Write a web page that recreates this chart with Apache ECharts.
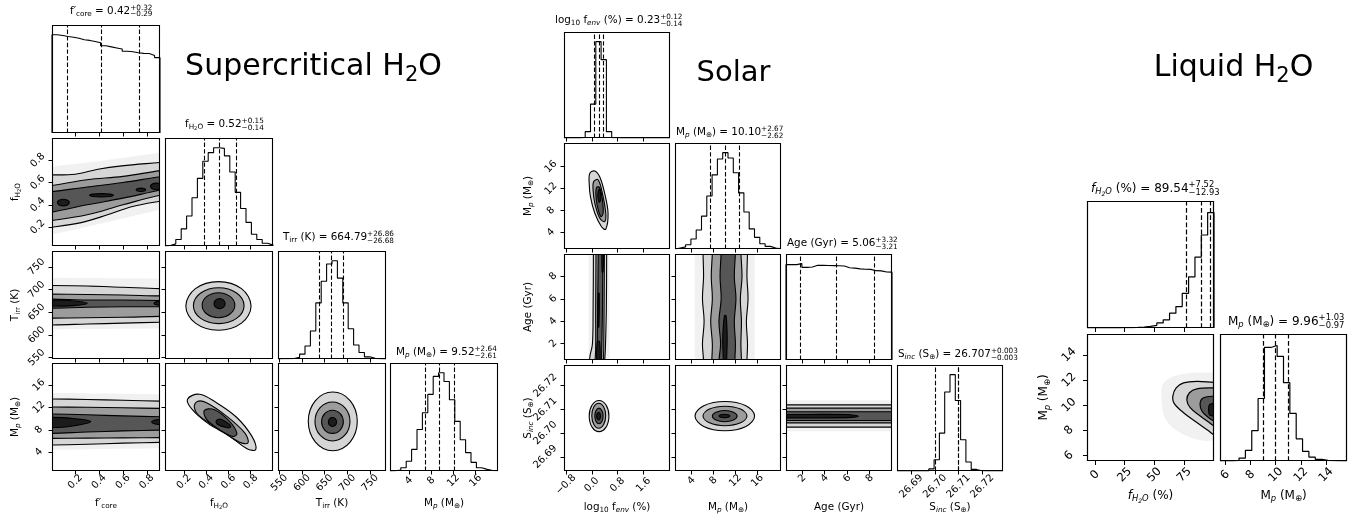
<!DOCTYPE html>
<html>
<head>
<meta charset="utf-8">
<title>Posterior corner plots</title>
<script src="https://cdn.jsdelivr.net/npm/echarts@6.0.0/dist/echarts.min.js"></script>
<style>
  html, body { margin: 0; padding: 0; background: #ffffff; }
  #chart { width: 1367px; height: 521px; }
</style>
</head>
<body>
<div id="chart"></div>
<script>
// ===================== Supercritical H2O =====================
const SC_FCORE_RANGE = [0.005, 0.91];
const SC_FH2O_RANGE  = [0.03, 1.0];
const SC_TIRR_RANGE  = [547, 785];
const SC_MP_RANGE    = [0.6, 20];

const SC_FCORE_TICKS = [0.2, 0.4, 0.6, 0.8];
const SC_FH2O_TICKS  = [0.2, 0.4, 0.6, 0.8];
const SC_TIRR_TICKS  = [550, 600, 650, 700, 750];
const SC_MP_TICKS    = [4, 8, 12, 16];

// marginal histograms: 20 equal bins spanning each range, relative counts
const SC_FCORE_HIST = [0.912, 0.905, 0.897, 0.89, 0.88, 0.866, 0.86, 0.85, 0.838, 0.81, 0.80, 0.79, 0.78, 0.76, 0.755, 0.745, 0.74, 0.738, 0.72, 0.70];
const SC_FH2O_HIST  = [0.005, 0.02, 0.06, 0.16, 0.28, 0.45, 0.63, 0.79, 0.87, 0.915, 0.91, 0.84, 0.69, 0.5, 0.35, 0.22, 0.11, 0.06, 0.025, 0.008];
const SC_TIRR_HIST  = [0.002, 0.003, 0.005, 0.015, 0.045, 0.12, 0.26, 0.52, 0.72, 0.88, 0.91, 0.75, 0.52, 0.28, 0.13, 0.06, 0.02, 0.006, 0.002, 0.001];
const SC_MP_HIST    = [0.003, 0.01, 0.03, 0.09, 0.2, 0.385, 0.54, 0.71, 0.877, 0.91, 0.83, 0.66, 0.46, 0.29, 0.17, 0.08, 0.03, 0.015, 0.005, 0.002];

// 16th / 50th / 84th percentiles
const SC_FCORE_Q = [0.13, 0.42, 0.74];
const SC_FH2O_Q  = [0.38, 0.52, 0.67];
const SC_TIRR_Q  = [638.11, 664.79, 691.65];
const SC_MP_Q    = [6.91, 9.52, 12.16];

// 2-D posteriors: [density level, outline]; level 0 = faint haze, 1..4 = nested contour levels
const SC_FH2O_FCORE = [
  [0, [[-0.4,0.08],[-0.02,0.13],[0.45,0.24],[0.93,0.36],[1.3,0.44],[1.3,0.92],[0.93,0.87],[0.45,0.8],[-0.02,0.74],[-0.4,0.7]]],
  [1, [[-0.4,0.15],[-0.02,0.196],[0.25,0.24],[0.47,0.31],[0.68,0.385],[0.93,0.435],[1.3,0.5],[1.3,0.82],[0.93,0.782],[0.59,0.75],[0.39,0.72],[0.2,0.675],[-0.02,0.668],[-0.4,0.66]]],
  [2, [[-0.4,0.2],[-0.02,0.255],[0.3,0.31],[0.6,0.4],[0.93,0.49],[1.3,0.55],[1.3,0.75],[0.93,0.71],[0.6,0.655],[0.3,0.625],[-0.02,0.57],[-0.4,0.52]]],
  [3, [[-0.4,0.28],[-0.02,0.33],[0.3,0.4],[0.6,0.46],[0.93,0.535],[1.3,0.6],[1.3,0.7],[0.93,0.655],[0.6,0.6],[0.3,0.56],[-0.02,0.515],[-0.4,0.47]]],
  [4, [[0.1,0.45],[0.135,0.441],[0.15,0.42],[0.135,0.399],[0.1,0.39],[0.065,0.399],[0.05,0.42],[0.065,0.441]]],
  [4, [[0.42,0.5],[0.49,0.496],[0.52,0.485],[0.49,0.474],[0.42,0.47],[0.35,0.474],[0.32,0.485],[0.35,0.496]]],
  [4, [[0.75,0.55],[0.778,0.546],[0.79,0.535],[0.778,0.524],[0.75,0.52],[0.722,0.524],[0.71,0.535],[0.722,0.546]]],
  [4, [[0.88,0.595],[0.915,0.586],[0.93,0.565],[0.915,0.544],[0.88,0.535],[0.845,0.544],[0.83,0.565],[0.845,0.586]]]
];
const SC_TIRR_FCORE = [
  [0, [[-0.4,612],[-0.02,612],[0.93,614],[1.3,614],[1.3,724],[0.93,724],[-0.02,726],[-0.4,726]]],
  [1, [[-0.4,622],[-0.02,622],[0.3,624],[0.6,626],[0.93,628],[1.3,629],[1.3,702],[0.93,702],[0.6,705],[0.3,708],[-0.02,709],[-0.4,709]]],
  [2, [[-0.4,637],[-0.02,637],[0.3,638],[0.6,639],[0.93,641],[1.3,641],[1.3,686],[0.93,686],[0.6,688],[0.3,689],[-0.02,690],[-0.4,690]]],
  [3, [[-0.4,659],[-0.02,659],[0.3,661],[0.6,662],[0.93,662],[1.3,662],[1.3,676],[0.93,676],[0.6,677],[0.3,677],[-0.02,679],[-0.4,679]]],
  [4, [[-0.4,664],[-0.02,664],[0.15,664],[0.3,670],[0.15,676],[-0.02,677],[-0.4,677]]],
  [4, [[0.86,669],[0.89,666],[0.93,666],[0.95,670],[0.93,674],[0.89,674]]]
];
const SC_MP_FCORE = [
  [0, [[-0.4,4.4],[-0.02,4.4],[0.93,4.7],[1.3,4.7],[1.3,14.4],[0.93,14.4],[-0.02,14.6],[-0.4,14.6]]],
  [1, [[-0.4,5.2],[-0.02,5.25],[0.3,5.4],[0.6,5.6],[0.93,5.75],[1.3,5.8],[1.3,13.1],[0.93,13.15],[0.6,13.3],[0.3,13.45],[-0.02,13.55],[-0.4,13.6]]],
  [2, [[-0.4,6.4],[-0.02,6.45],[0.3,6.5],[0.6,6.55],[0.93,6.6],[1.3,6.6],[1.3,11.8],[0.93,11.85],[0.6,11.95],[0.3,12.05],[-0.02,12.1],[-0.4,12.15]]],
  [3, [[-0.4,7.3],[-0.02,7.35],[0.3,7.6],[0.6,7.8],[0.93,7.95],[1.3,8.0],[1.3,10.3],[0.93,10.35],[0.6,10.5],[0.3,10.7],[-0.02,10.85],[-0.4,10.9]]],
  [4, [[-0.4,8.3],[-0.02,8.4],[0.15,8.6],[0.33,9.5],[0.15,10.1],[-0.02,10.25],[-0.4,10.3]]],
  [4, [[0.84,9.4],[0.88,9.0],[0.93,9.0],[0.95,9.4],[0.93,9.8],[0.88,9.8]]]
];
const SC_TIRR_FH2O = [
  [1, [[0.51,717.5],[0.717,702],[0.803,664],[0.717,626],[0.51,610.5],[0.303,626],[0.217,664],[0.303,702]]],
  [2, [[0.512,704],[0.673,692.4],[0.74,664.5],[0.673,636.6],[0.512,625],[0.351,636.6],[0.285,664.5],[0.351,692.4]]],
  [3, [[0.51,693],[0.614,684.9],[0.657,665.5],[0.614,646.1],[0.51,638],[0.406,646.1],[0.364,665.5],[0.406,684.9]]],
  [4, [[0.52,680],[0.555,676.8],[0.57,669],[0.555,661.2],[0.52,658],[0.485,661.2],[0.47,669],[0.485,676.8]]]
];
const SC_MP_FH2O = [
  [1, [[0.338,14.4],[0.49,12.9],[0.67,10.3],[0.807,6.95],[0.846,4.5],[0.776,4.5],[0.61,6.85],[0.413,9.2],[0.272,11.7],[0.232,13.5]]],
  [2, [[0.399,12.9],[0.58,10.5],[0.746,7.45],[0.776,5.67],[0.70,5.75],[0.52,8.1],[0.338,10.5],[0.293,12.1],[0.32,13.1]]],
  [3, [[0.475,11.6],[0.61,9.5],[0.676,7.35],[0.64,6.8],[0.49,8.4],[0.399,10.0],[0.384,11.5]]],
  [4, [[0.53,9.9],[0.6,9.1],[0.62,8.5],[0.58,8.4],[0.5,9.0],[0.49,9.6]]]
];
const SC_MP_TIRR = [
  [1, [[667.7,14.8],[705.9,13.25],[721.7,9.52],[705.9,5.79],[667.7,4.24],[629.5,5.79],[613.7,9.52],[629.5,13.25]]],
  [2, [[667,13.0],[694.2,11.97],[705.6,9.5],[694.2,7.03],[667,6.0],[639.8,7.03],[628.5,9.5],[639.8,11.97]]],
  [3, [[667,11.5],[684,10.9],[691,9.43],[684,7.96],[667,7.35],[650,7.96],[643,9.43],[650,10.9]]],
  [4, [[667,10.2],[673.4,9.97],[676,9.4],[673.4,8.83],[667,8.6],[660.6,8.83],[658,9.4],[660.6,9.97]]]
];

// ===================== Solar =====================
const SOL_LOGF_RANGE = [-0.86, 2.42];
const SOL_MP_RANGE   = [1.0, 20.3];
const SOL_AGE_RANGE  = [0.55, 10];
const SOL_SINC_RANGE = [26.684, 26.7287];

const SOL_LOGF_TICKS = [-0.8, 0.0, 0.8, 1.6];
const SOL_MP_TICKS   = [4, 8, 12, 16];
const SOL_AGE_TICKS  = [2, 4, 6, 8];
const SOL_SINC_TICKS = [26.69, 26.70, 26.71, 26.72];

const SOL_LOGF_HIST = [0, 0, 0, 0.005, 0.06, 0.32, 0.91, 0.74, 0.06, 0.003, 0, 0, 0, 0, 0, 0, 0, 0, 0, 0];
const SOL_MP_HIST   = [0.01, 0.02, 0.04, 0.094, 0.18, 0.31, 0.50, 0.70, 0.85, 0.91, 0.86, 0.72, 0.53, 0.35, 0.19, 0.11, 0.05, 0.025, 0.01, 0.003];
const SOL_AGE_HIST  = [0.895, 0.895, 0.904, 0.869, 0.872, 0.888, 0.888, 0.886, 0.885, 0.884, 0.882, 0.865, 0.862, 0.855, 0.852, 0.85, 0.838, 0.836, 0.826, 0.824];
const SOL_SINC_HIST = [0, 0, 0, 0, 0, 0, 0.02, 0.107, 0.36, 0.75, 0.915, 0.67, 0.297, 0.085, 0.015, 0.003, 0, 0, 0, 0];

const SOL_LOGF_Q = [0.09, 0.23, 0.35];
const SOL_MP_Q   = [7.48, 10.10, 12.77];
const SOL_AGE_Q  = [1.85, 5.06, 8.38];
const SOL_SINC_Q = [26.704, 26.707, 26.710];

const SOL_MP_LOGF = [
  [1, [[0.094,15.2],[0.248,14.1],[0.40,11.1],[0.503,7.5],[0.432,4.6],[0.30,5.05],[0.094,7.5],[-0.04,10.5],[-0.08,12.9],[-0.06,14.8]]],
  [2, [[0.195,13.6],[0.33,11.1],[0.432,7.5],[0.40,6.0],[0.248,6.6],[0.094,9.3],[0.04,11.7],[0.06,13.3]]],
  [3, [[0.248,12.1],[0.33,9.9],[0.35,7.5],[0.28,6.9],[0.165,9.0],[0.125,11.1],[0.16,12.3]]],
  [4, [[0.24,11.9],[0.28,10.3],[0.24,9.5],[0.2,10.0],[0.19,11.2]]]
];
const SOL_AGE_LOGF = [
  [0, [[-0.1,-4],[-0.1,0.4],[-0.1,10.2],[-0.1,14.5],[0.55,14.5],[0.55,10.2],[0.55,0.4],[0.55,-4]]],
  [1, [[-0.07,-4],[-0.07,0.4],[-0.05,1.0],[0.02,2.0],[0.04,5],[0.05,10.2],[0.05,14.5],[0.46,14.5],[0.46,10.2],[0.45,5],[0.42,1.5],[0.40,0.4],[0.40,-4]]],
  [2, [[0.1,-4],[0.1,0.4],[0.12,1.5],[0.12,5],[0.13,10.2],[0.13,14.5],[0.39,14.5],[0.39,10.2],[0.38,5],[0.37,1.5],[0.36,0.4],[0.36,-4]]],
  [3, [[0.16,-4],[0.16,0.4],[0.17,2],[0.18,5],[0.2,10.2],[0.2,14.5],[0.34,14.5],[0.34,10.2],[0.33,5],[0.31,2],[0.3,0.4],[0.3,-4]]],
  [4, [[0.31,14.5],[0.31,10.2],[0.32,8.4],[0.35,8.4],[0.36,10.2],[0.36,14.5]]],
  [4, [[0.15,-4],[0.15,0.4],[0.17,2.2],[0.24,2.2],[0.26,0.4],[0.26,-4]]],
  [4, [[0.19,3.5],[0.22,3.5],[0.23,6.5],[0.2,6.5]]]
];
const SOL_SINC_LOGF = [
  [1, [[0.225,26.7137],[0.441,26.7118],[0.53,26.7072],[0.441,26.7025],[0.225,26.7006],[0.009,26.7025],[-0.08,26.7072],[0.009,26.7118]]],
  [2, [[0.215,26.7126],[0.367,26.7111],[0.43,26.7073],[0.367,26.7036],[0.215,26.702],[0.063,26.7036],[0.0,26.7073],[0.063,26.7111]]],
  [3, [[0.222,26.7105],[0.312,26.7095],[0.35,26.7072],[0.312,26.7049],[0.222,26.7039],[0.132,26.7049],[0.094,26.7072],[0.132,26.7095]]],
  [4, [[0.21,26.7087],[0.252,26.7082],[0.27,26.7071],[0.252,26.706],[0.21,26.7055],[0.168,26.706],[0.15,26.7071],[0.168,26.7082]]]
];
const SOL_AGE_MP = [
  [0, [[4.6,-4],[4.6,0.4],[4.6,10.2],[4.6,14.5],[15.5,14.5],[15.5,10.2],[15.5,0.4],[15.5,-4]]],
  [1, [[6.2,-4],[6.2,0.4],[6.0,2],[6.3,4],[6.0,6],[6.2,8],[6.1,10.2],[6.1,14.5],[14.2,14.5],[14.2,10.2],[14.1,8],[14.3,6],[14.0,4],[14.2,2],[14.1,0.4],[14.1,-4]]],
  [2, [[7.7,-4],[7.7,0.4],[7.8,2],[7.5,4],[7.8,6],[7.6,8],[7.8,10.2],[7.8,14.5],[13.0,14.5],[13.0,10.2],[13.2,8],[12.9,6],[13.1,4],[13.0,2],[13.1,0.4],[13.1,-4]]],
  [3, [[9.0,-4],[9.0,0.4],[9.3,2],[9.0,4],[9.4,6],[9.2,8],[9.4,10.2],[9.4,14.5],[12.0,14.5],[12.0,10.2],[11.8,8],[12.1,6],[11.8,4],[12.0,2],[11.9,0.4],[11.9,-4]]],
  [4, [[9.8,-4],[9.8,0.4],[9.7,2.5],[10.0,4.5],[10.3,4.5],[10.5,2.5],[10.4,0.4],[10.4,-4]]]
];
const SOL_SINC_MP = [
  [1, [[10.07,26.7133],[13.91,26.7115],[15.5,26.7072],[13.91,26.7028],[10.07,26.701],[6.23,26.7028],[4.64,26.7072],[6.23,26.7115]]],
  [2, [[10.1,26.7113],[12.93,26.7101],[14.1,26.7072],[12.93,26.7043],[10.1,26.7031],[7.27,26.7043],[6.1,26.7072],[7.27,26.7101]]],
  [3, [[10.05,26.7095],[11.64,26.7088],[12.3,26.7072],[11.64,26.7055],[10.05,26.7048],[8.46,26.7055],[7.8,26.7072],[8.46,26.7088]]],
  [4, [[10,26.7079],[10.7,26.7077],[11.0,26.7072],[10.7,26.7067],[10,26.7065],[9.3,26.7067],[9.0,26.7072],[9.3,26.7077]]]
];
const SOL_SINC_AGE = [
  [0, [[-4,26.7008],[0.4,26.7008],[10.2,26.7008],[14.5,26.7008],[14.5,26.7138],[10.2,26.7138],[0.4,26.7138],[-4,26.7138]]],
  [1, [[-4,26.7025],[0.4,26.7025],[5,26.7025],[10.2,26.7025],[14.5,26.7025],[14.5,26.7119],[10.2,26.7119],[5,26.7119],[0.4,26.7119],[-4,26.7119]]],
  [2, [[-4,26.7043],[0.4,26.7043],[5,26.7043],[10.2,26.7043],[14.5,26.7043],[14.5,26.7105],[10.2,26.7105],[5,26.7105],[0.4,26.7105],[-4,26.7105]]],
  [3, [[-4,26.7053],[0.4,26.7053],[5,26.7053],[10.2,26.7053],[14.5,26.7053],[14.5,26.709],[10.2,26.709],[5,26.709],[0.4,26.709],[-4,26.709]]],
  [4, [[-4,26.7064],[0.4,26.7064],[6,26.7065],[7,26.7071],[6,26.7078],[0.4,26.7078],[-4,26.7078]]]
];

// ===================== Liquid H2O =====================
const LIQ_FH2O_RANGE = [-6.7, 100];
const LIQ_MP_RANGE   = [5.58, 15.65];

const LIQ_FH2O_TICKS = [0, 25, 50, 75];
const LIQ_MP_TICKS   = [6, 8, 10, 12, 14];

const LIQ_FH2O_HIST = [0, 0, 0, 0, 0.001, 0.002, 0.003, 0.005, 0.008, 0.013, 0.021, 0.04, 0.065, 0.118, 0.17, 0.275, 0.405, 0.563, 0.738, 0.916];
const LIQ_MP_HIST   = [0, 0, 0.005, 0.023, 0.083, 0.238, 0.49, 0.89, 0.905, 0.82, 0.614, 0.373, 0.174, 0.075, 0.031, 0.013, 0.005, 0.002, 0, 0];

const LIQ_FH2O_Q = [76.61, 89.54, 97.06];
const LIQ_MP_Q   = [8.99, 9.96, 10.99];

const LIQ_MP_FH2O = [
  [0, [[115,12.6],[100.5,12.6],[75,12.5],[58,11.8],[56,10.3],[60,8.8],[72,7.8],[90,7.2],[100.5,7.2],[115,7.2]]],
  [1, [[115,11.82],[100.5,11.82],[85.6,11.9],[74.4,11.77],[68.2,11.38],[65.4,10.72],[66.5,10.15],[74.4,9.41],[85.6,8.63],[95.4,7.97],[100.5,7.63],[115,7.4]]],
  [2, [[115,11.38],[100.5,11.38],[85.6,11.3],[79.4,10.99],[77.2,10.41],[80.0,9.81],[88.4,9.15],[95.4,8.67],[100.5,8.36],[115,8.2]]],
  [3, [[115,10.72],[100.5,10.72],[91.2,10.6],[88.4,10.2],[89.8,9.54],[95.4,9.02],[100.5,8.75],[115,8.7]]],
  [4, [[115,10.1],[97,10.1],[95.5,9.7],[97,9.2],[115,9.2]]]
];

// ===================== drawing =====================
const FONT = 'DejaVu Sans';
const LEVEL_FILL = ['#f1f1f1', '#d6d6d6', '#9c9c9c', '#565656', '#1c1c1c'];

const measureCtx = document.createElement('canvas').getContext('2d');
function textW(s, size, italic) {
  measureCtx.font = (italic ? 'italic ' : '') + size + 'px "' + FONT + '"';
  return measureCtx.measureText(s).width;
}
// distance between the alphabetic baseline and the 'middle' line, per unit font size
const MID = (() => {
  const c = document.createElement('canvas').getContext('2d');
  c.font = '100px "' + FONT + '"';
  c.textBaseline = 'alphabetic';
  const a = c.measureText('Hg').fontBoundingBoxAscent;
  c.textBaseline = 'middle';
  const m = c.measureText('Hg').fontBoundingBoxAscent;
  const k = (a - m) / 100;
  return (k > 0.1 && k < 0.6) ? k : 0.33;
})();

const SEG = {
  n:   { s: 1,   dy: 0,    it: false },
  i:   { s: 1,   dy: 0,    it: true },
  b:   { s: 0.7, dy: 0.2,  it: false },
  bi:  { s: 0.7, dy: 0.2,  it: true },
  bb:  { s: 0.5, dy: 0.33, it: false },
  bbi: { s: 0.5, dy: 0.33, it: true }
};
// lays out a line of mixed text (subscripts, stacked +/- errors) on a baseline
function textRun(segs, size, x, baseY, align) {
  const items = [];
  let cx = 0;
  segs.forEach(([t, kind]) => {
    if (kind === 'pm') {
      const [up, dn] = t.split('|');
      const fs = size * 0.7;
      items.push({ t: up, x: cx, dy: -0.38 * size, fs, it: false });
      items.push({ t: dn, x: cx, dy: 0.28 * size, fs, it: false });
      cx += Math.max(textW(up, fs, false), textW(dn, fs, false));
    } else {
      const k = SEG[kind];
      const fs = size * k.s;
      items.push({ t, x: cx, dy: k.dy * size, fs, it: k.it });
      cx += textW(t, fs, k.it);
    }
  });
  const x0 = align === 'center' ? x - cx / 2 : x;
  return items.map(p => ({
    type: 'text', x: x0 + p.x, y: baseY + p.dy - MID * p.fs, silent: true, z: 100,
    style: { text: p.t, fontSize: p.fs, fontFamily: FONT, fontStyle: p.it ? 'italic' : 'normal',
             fill: '#000', align: 'left', verticalAlign: 'middle' }
  }));
}

function fmt(v, dec) { return v.toFixed(dec).replace('-', '\u2212'); }

const MP_LABEL = [['M', 'n'], ['p', 'bi'], [' (M', 'n'], ['\u2295', 'b'], [')', 'n']];

const PLOTS = [
  {
    x0: 52, y0: 25, step: 112.8, cell: 108, tickFs: 10, fs: 10.4, lw: 1.1, tickLen: 3.5, mx: 1, my: 4.5,
    xLabelY: 506, yLabelX: 14,
    vars: [
      { range: SC_FCORE_RANGE, ticks: SC_FCORE_TICKS, dec: 1, hist: SC_FCORE_HIST, q: SC_FCORE_Q,
        label: [['f\u2032', 'n'], ['core', 'b']],
        title: [['f\u2032', 'n'], ['core', 'b'], [' = 0.42', 'n'], ['+0.32|\u22120.29', 'pm']], tpos: [70, 13.5] },
      { range: SC_FH2O_RANGE, ticks: SC_FH2O_TICKS, dec: 1, hist: SC_FH2O_HIST, q: SC_FH2O_Q,
        label: [['f', 'n'], ['H', 'b'], ['2', 'bb'], ['O', 'b']],
        title: [['f', 'n'], ['H', 'b'], ['2', 'bb'], ['O', 'b'], [' = 0.52', 'n'], ['+0.15|\u22120.14', 'pm']], tpos: [185, 127] },
      { range: SC_TIRR_RANGE, ticks: SC_TIRR_TICKS, dec: 0, hist: SC_TIRR_HIST, q: SC_TIRR_Q,
        label: [['T', 'n'], ['irr', 'b'], [' (K)', 'n']],
        title: [['T', 'n'], ['irr', 'b'], [' (K) = 664.79', 'n'], ['+26.86|\u221226.68', 'pm']], tpos: [283, 240] },
      { range: SC_MP_RANGE, ticks: SC_MP_TICKS, dec: 0, hist: SC_MP_HIST, q: SC_MP_Q,
        label: MP_LABEL,
        title: [['M', 'n'], ['p', 'bi'], [' (M', 'n'], ['\u2295', 'b'], [') = 9.52', 'n'], ['+2.64|\u22122.61', 'pm']], tpos: [396, 355] }
    ],
    pairs: { '1,0': SC_FH2O_FCORE, '2,0': SC_TIRR_FCORE, '3,0': SC_MP_FCORE,
             '2,1': SC_TIRR_FH2O, '3,1': SC_MP_FH2O, '3,2': SC_MP_TIRR },
    heading: { segs: [['Supercritical H', 'n'], ['2', 'b'], ['O', 'n']], x: 313.5, y: 75, fs: 30 }
  },
  {
    x0: 564, y0: 32, step: 111, cell: 106, tickFs: 10, fs: 10.4, lw: 1.1, tickLen: 3.5, mx: 1, my: 4.5,
    xLabelY: 510, yLabelX: 527,
    vars: [
      { range: SOL_LOGF_RANGE, ticks: SOL_LOGF_TICKS, dec: 1, hist: SOL_LOGF_HIST, q: SOL_LOGF_Q,
        label: [['log', 'n'], ['10', 'b'], [' f', 'n'], ['env', 'bi'], [' (%)', 'n']],
        title: [['log', 'n'], ['10', 'b'], [' f', 'n'], ['env', 'bi'], [' (%) = 0.23', 'n'], ['+0.12|\u22120.14', 'pm']], tpos: [555, 23] },
      { range: SOL_MP_RANGE, ticks: SOL_MP_TICKS, dec: 0, hist: SOL_MP_HIST, q: SOL_MP_Q,
        label: MP_LABEL,
        title: [['M', 'n'], ['p', 'bi'], [' (M', 'n'], ['\u2295', 'b'], [') = 10.10', 'n'], ['+2.67|\u22122.62', 'pm']], tpos: [676, 135] },
      { range: SOL_AGE_RANGE, ticks: SOL_AGE_TICKS, dec: 0, hist: SOL_AGE_HIST, q: SOL_AGE_Q,
        label: [['Age (Gyr)', 'n']],
        title: [['Age (Gyr) = 5.06', 'n'], ['+3.32|\u22123.21', 'pm']], tpos: [787, 246] },
      { range: SOL_SINC_RANGE, ticks: SOL_SINC_TICKS, dec: 2, hist: SOL_SINC_HIST, q: SOL_SINC_Q,
        label: [['S', 'n'], ['inc', 'bi'], [' (S', 'n'], ['\u2295', 'b'], [')', 'n']],
        title: [['S', 'n'], ['inc', 'bi'], [' (S', 'n'], ['\u2295', 'b'], [') = 26.707', 'n'], ['+0.003|\u22120.003', 'pm']], tpos: [898, 357] }
    ],
    pairs: { '1,0': SOL_MP_LOGF, '2,0': SOL_AGE_LOGF, '3,0': SOL_SINC_LOGF,
             '2,1': SOL_AGE_MP, '3,1': SOL_SINC_MP, '3,2': SOL_SINC_AGE },
    heading: { segs: [['Solar', 'n']], x: 733.5, y: 81.5, fs: 29 }
  },
  {
    x0: 1087, y0: 201, step: 133, cell: 127, tickFs: 11.6, fs: 12, lw: 1.2, tickLen: 4, mx: 4, my: 8,
    xLabelY: 499, yLabelX: 1043,
    vars: [
      { range: LIQ_FH2O_RANGE, ticks: LIQ_FH2O_TICKS, dec: 0, hist: LIQ_FH2O_HIST, q: LIQ_FH2O_Q,
        label: [['f', 'i'], ['H', 'bi'], ['2', 'bbi'], ['O', 'bi'], [' (%)', 'n']],
        title: [['f', 'i'], ['H', 'bi'], ['2', 'bbi'], ['O', 'bi'], [' (%) = 89.54', 'n'], ['+7.52|\u221212.93', 'pm']], tpos: [1091, 192] },
      { range: LIQ_MP_RANGE, ticks: LIQ_MP_TICKS, dec: 0, hist: LIQ_MP_HIST, q: LIQ_MP_Q,
        label: MP_LABEL,
        title: [['M', 'n'], ['p', 'bi'], [' (M', 'n'], ['\u2295', 'b'], [') = 9.96', 'n'], ['+1.03|\u22120.97', 'pm']], tpos: [1228, 325] }
    ],
    pairs: { '1,0': LIQ_MP_FH2O },
    heading: { segs: [['Liquid H', 'n'], ['2', 'b'], ['O', 'n']], x: 1233.5, y: 76, fs: 30 }
  }
];

const option = {
  backgroundColor: '#ffffff',
  animation: false,
  textStyle: { fontFamily: FONT },
  grid: [], xAxis: [], yAxis: [], series: [],
  graphic: { elements: [] }
};
const G = option.graphic.elements;

function valueAxis(v, g, showLabels, dir, P) {
  const w = Math.max(...v.ticks.map(t => textW(fmt(t, v.dec), P.tickFs, false)));
  const h = 1.16 * P.tickFs;
  const margin = dir === 'x' ? P.mx + 0.354 * (w + h) : P.my + 0.354 * (w + h);
  return {
    type: 'value', gridIndex: g, min: v.range[0], max: v.range[1],
    position: dir === 'x' ? 'bottom' : 'left',
    axisLine: { show: false, onZero: false }, splitLine: { show: false }, axisPointer: { show: false },
    axisTick: { show: true, inside: false, length: P.tickLen, lineStyle: { color: '#000', width: 1 }, customValues: v.ticks },
    axisLabel: {
      show: showLabels, customValues: v.ticks, rotate: 45, align: 'center', verticalAlign: 'middle',
      margin, fontSize: P.tickFs, fontFamily: FONT, color: '#000',
      formatter: val => fmt(val, v.dec)
    }
  };
}

function histSeries(v, g, P) {
  const n = v.hist.length, lo = v.range[0], hi = v.range[1], w = (hi - lo) / n;
  const pts = [[lo, 0]];
  v.hist.forEach((c, k) => pts.push([lo + k * w, c]));
  pts.push([hi, v.hist[n - 1]], [hi, 0]);
  return {
    type: 'line', xAxisIndex: g, yAxisIndex: g, data: pts, step: 'end', symbol: 'none',
    clip: true, silent: true, animation: false,
    lineStyle: { color: '#000', width: P.lw },
    markLine: {
      silent: true, symbol: ['none', 'none'], label: { show: false }, animation: false,
      lineStyle: { color: '#000', width: P.lw, type: [4 * P.lw, 2 * P.lw] },
      emphasis: { disabled: true },
      data: v.q.map(x => ({ xAxis: x }))
    }
  };
}

function contourSeries(polys, g, P) {
  return {
    type: 'custom', xAxisIndex: g, yAxisIndex: g, clip: true, silent: true, animation: false,
    data: polys.map((p, k) => [k, k]),
    renderItem: (params, api) => {
      const [lvl, pts] = polys[params.dataIndex];
      return {
        type: 'polygon',
        shape: { points: pts.map(p => api.coord(p)), smooth: 0.37 },
        style: { fill: LEVEL_FILL[lvl], stroke: lvl > 0 ? '#000' : null, lineWidth: P.lw }
      };
    }
  };
}

PLOTS.forEach(P => {
  const n = P.vars.length;
  const colLeft = j => Math.round(P.x0 + j * P.step);
  const rowTop = i => Math.round(P.y0 + i * P.step);
  for (let i = 0; i < n; i++) {
    for (let j = 0; j <= i; j++) {
      const g = option.grid.length;
      const left = colLeft(j), top = rowTop(i);
      option.grid.push({ left, top, width: P.cell, height: P.cell, show: false, containLabel: false, outerBoundsMode: 'none' });
      const vx = P.vars[j], vy = P.vars[i];
      option.xAxis.push(valueAxis(vx, g, i === n - 1, 'x', P));
      if (i === j) {
        option.yAxis.push({ type: 'value', gridIndex: g, min: 0, max: 1.1 * Math.max(...vx.hist), show: false,
                            axisLine: { onZero: false }, splitLine: { show: false } });
        option.series.push(histSeries(vx, g, P));
      } else {
        option.yAxis.push(valueAxis(vy, g, j === 0, 'y', P));
        option.series.push(contourSeries(P.pairs[i + ',' + j], g, P));
      }
      G.push({
        type: 'rect', silent: true, z: 100,
        shape: { x: left + 0.5, y: top + 0.5, width: P.cell - 1, height: P.cell - 1 },
        style: { fill: null, stroke: '#000', lineWidth: P.lw }
      });
    }
  }
  // marginal titles
  P.vars.forEach(v => G.push(...textRun(v.title, P.fs, v.tpos[0], v.tpos[1], 'left')));
  // axis names along the bottom row
  P.vars.forEach((v, j) => G.push(...textRun(v.label, P.fs, colLeft(j) + P.cell / 2, P.xLabelY, 'center')));
  // axis names along the left column (rotated)
  for (let i = 1; i < n; i++) {
    G.push({
      type: 'group', x: P.yLabelX, y: rowTop(i) + P.cell / 2, rotation: Math.PI / 2, silent: true,
      children: textRun(P.vars[i].label, P.fs, 0, 0.36 * P.fs, 'center')
    });
  }
  // panel heading
  G.push(...textRun(P.heading.segs, P.heading.fs, P.heading.x, P.heading.y, 'center'));
});

const chart = echarts.init(document.getElementById('chart'), null, { renderer: 'canvas' });
chart.setOption(option);
</script>
</body>
</html>
